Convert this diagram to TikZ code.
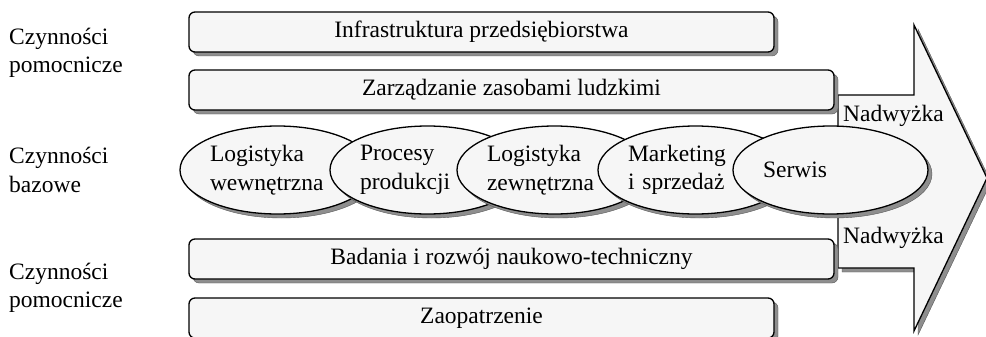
\documentclass[tikz,border=0pt]{standalone}
\usepackage{fontspec}
\setmainfont{Liberation Serif}
\usetikzlibrary{shapes.geometric,shadows}
\definecolor{panel}{HTML}{F6F6F6}
\definecolor{shade}{HTML}{8E8E8E}
\tikzset{
  shd/.style={drop shadow={shadow xshift=4pt,shadow yshift=-4pt,opacity=1,fill=shade,draw=black!65,line width=.4pt}},
  actbox/.style={draw,line width=1.3pt,rounded corners=6pt,fill=panel,minimum height=40pt,inner sep=0pt,shd},
  actoval/.style={ellipse,draw,line width=1.3pt,fill=panel,minimum width=195pt,minimum height=88pt,inner sep=0pt,text width=135pt,align=left,shd},
  lbl/.style={align=left,inner sep=0pt,anchor=west}
}
\begin{document}
\begin{tikzpicture}[x=1pt,y=-1pt,font=\fontsize{23.5}{28.5}\selectfont]
\clip (0,0) rectangle (986,337);
\fill[white] (0,0) rectangle (986,337);
\draw[line width=1.3pt,fill=panel,shd] (838,95) -- (914,95) -- (914,25) -- (987,178) -- (914,331) -- (914,268) -- (838,268) -- cycle;
\node[actbox,minimum width=585pt] (infra) at (481.5,32) {Infrastruktura przedsiębiorstwa};
\node[actbox,minimum width=645pt] (hr) at (511.5,90) {Zarządzanie zasobami ludzkimi};
\node[actbox,minimum width=645pt] (rd) at (511.5,259) {Badania i rozwój naukowo-techniczny};
\node[actbox,minimum width=585pt] (supply) at (481.5,318) {Zaopatrzenie};
\node[actoval] (inlog) at (277.5,170) {Logistyka\\wewnętrzna};
\node[actoval] (prod) at (427.5,170) {Procesy\\produkcji};
\node[actoval] (outlog) at (554.5,170) {Logistyka\\zewnętrzna};
\node[actoval] (mkt) at (695.5,170) {Marketing\\i sprzedaż};
\node[actoval] (serv) at (830.5,170) {Serwis};
\node[anchor=west,inner sep=0pt] (surplusa) at (843,116) {Nadwyżka};
\node[anchor=west,inner sep=0pt] (surplusb) at (843,238) {Nadwyżka};
\node[lbl] (suppa) at (9,53) {Czynności\\pomocnicze};
\node[lbl] (prim) at (9,170) {Czynności\\bazowe};
\node[lbl] (suppb) at (9,288) {Czynności\\pomocnicze};
\end{tikzpicture}
\end{document}
